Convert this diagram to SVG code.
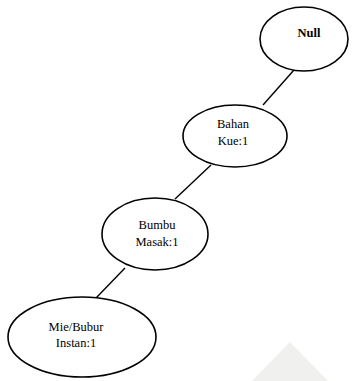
<svg xmlns="http://www.w3.org/2000/svg" width="353" height="381" viewBox="0 0 353 381">
<style>
.n{fill:#fff;stroke:#000;stroke-width:1.6}
.t{font-family:"Liberation Serif",serif;font-size:12.5px;text-anchor:middle;fill:#000}
.b{font-weight:bold}
.c{stroke:#000;stroke-width:1.4;fill:none}
</style>
<rect width="353" height="381" fill="#fff"/>
<polygon points="290,342 245,388 335,388" fill="#e6e6e2" opacity="0.6"/>
<g id="connectors">
<line class="c" x1="294" y1="70" x2="263" y2="105"/>
<line class="c" x1="211" y1="165" x2="175" y2="199"/>
<line class="c" x1="125" y1="268" x2="96" y2="298"/>
</g>
<g id="null">
<ellipse class="n" cx="304" cy="39" rx="44" ry="32"/>
<text class="t b" x="309" y="37">Null</text>
</g>
<g id="bahan">
<ellipse class="n" cx="235" cy="136" rx="52" ry="31"/>
<text class="t" x="233" y="128">Bahan</text>
<text class="t" x="233" y="145">Kue:1</text>
</g>
<g id="bumbu">
<ellipse class="n" cx="155" cy="234" rx="53" ry="36"/>
<text class="t" x="157" y="229">Bumbu</text>
<text class="t" x="157" y="246">Masak:1</text>
</g>
<g id="mie">
<ellipse class="n" cx="82" cy="337" rx="74" ry="40"/>
<text class="t" x="76" y="331">Mie/Bubur</text>
<text class="t" x="76" y="347">Instan:1</text>
</g>
</svg>
